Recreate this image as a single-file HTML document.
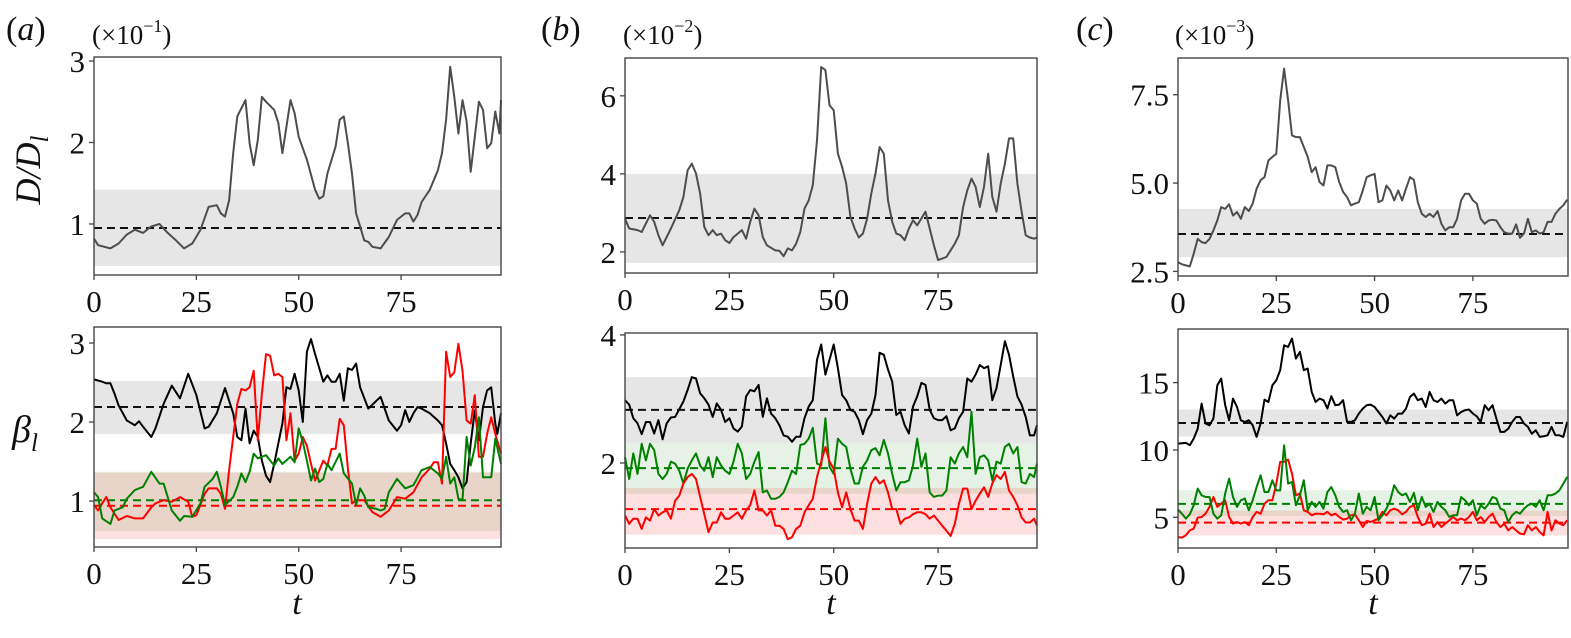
<!DOCTYPE html>
<html><head><meta charset="utf-8"><style>
html,body{margin:0;padding:0;background:#fff;}
.t{font-family:"Liberation Serif","Times New Roman",serif;fill:#111;}
</style></head><body>
<svg id="fig" width="1571" height="633" viewBox="0 0 1571 633" xmlns="http://www.w3.org/2000/svg">
<g id="layer"></g>
<text class="t" x="6" y="40" style="font-size:34px">(<tspan style="font-style:italic">a</tspan>)</text>
<text class="t" x="541" y="40" style="font-size:34px">(<tspan style="font-style:italic">b</tspan>)</text>
<text class="t" x="1076" y="40" style="font-size:34px">(<tspan style="font-style:italic">c</tspan>)</text>
<text class="t" x="92" y="44" style="font-size:27px">(×10<tspan style="font-size:18px" dy="-12">−1</tspan><tspan dy="12">)</tspan></text>
<text class="t" x="623" y="44" style="font-size:27px">(×10<tspan style="font-size:18px" dy="-12">−2</tspan><tspan dy="12">)</tspan></text>
<text class="t" x="1175" y="44" style="font-size:27px">(×10<tspan style="font-size:18px" dy="-12">−3</tspan><tspan dy="12">)</tspan></text>
<text class="t" transform="translate(40,170) rotate(-90)" text-anchor="middle" style="font-size:36px;font-style:italic">D/D<tspan style="font-size:25px" dy="8">l</tspan></text>
<text class="t" x="12" y="442" style="font-size:38px;font-style:italic">β<tspan style="font-size:25px" dy="9">l</tspan></text>
<text class="t" x="297" y="614" text-anchor="middle" style="font-size:34px;font-style:italic">t</text>
<text class="t" x="831" y="614" text-anchor="middle" style="font-size:34px;font-style:italic">t</text>
<text class="t" x="1373" y="614" text-anchor="middle" style="font-size:34px;font-style:italic">t</text>
</svg>
<script>
// ---------- data ----------
const xTicks = [0, 25, 50, 75];
// panel a top
const aTopT = [0,1,4,6,8,10,12,14,16,18,20,22,24,26,28,30,31,32,33,34,35,37,38,39,40,41,42,44,45,46,48,49,50,52,54,55,56,57,59,60,61,62,63,64,65,66,67,68,70,72,74,76,77,78,79,80,82,84,85,86,87,88,89,90,91,92,93,94,95,96,97,98,99,99.4];
const aTopV = [0.82,0.74,0.70,0.76,0.87,0.93,0.89,0.97,1.0,0.89,0.80,0.70,0.76,0.93,1.21,1.23,1.13,1.09,1.29,1.87,2.32,2.52,1.99,1.72,2.03,2.56,2.50,2.40,2.24,1.87,2.52,2.36,2.07,1.79,1.42,1.31,1.34,1.62,1.95,2.28,2.32,1.99,1.62,1.13,0.97,0.80,0.78,0.72,0.70,0.84,1.05,1.13,1.13,1.03,1.11,1.27,1.42,1.66,1.87,2.28,2.93,2.56,2.11,2.52,2.26,1.64,2.07,2.50,2.40,1.93,1.99,2.38,2.11,2.52];
const aTopYTicks = [1, 2, 3];
// panel a bottom
const aBlackT = [0,2,3,4,5,6,8,10,11,12,14,15,17,19,21,23,25,27,28,30,32,34,35,36,37,38,39,40,41,42,43,44,45,46,47,48,49,50,51,52,53,54,56,57,58,59,60,61,62,63,64,65,67,69,70,72,74,75,76,77,78,79,80,82,84,85,86,87,88,89,90,91,92,93,94,95,96,97,98,98.5,99.4];
const aBlackV = [2.54,2.51,2.49,2.49,2.36,2.21,2.02,1.96,2.01,1.94,1.81,1.92,2.23,2.46,2.30,2.61,2.34,1.92,1.94,2.11,2.43,2.11,1.81,1.77,2.17,1.73,1.89,1.81,1.51,1.32,1.24,1.47,1.73,1.98,2.44,2.42,2.61,2.40,2.00,2.89,3.05,2.86,2.51,2.59,2.51,2.51,2.61,2.27,2.68,2.66,2.74,2.44,2.17,2.27,2.32,2.02,1.89,1.96,2.15,2.00,2.11,2.19,2.17,2.11,2.02,1.96,1.73,1.47,1.39,1.30,1.16,1.24,1.73,2.15,1.77,2.19,2.40,2.44,1.98,1.85,2.11];
const aRedT = [0,1,2,3,4,6,8,10,12,14,15,17,19,21,23,24,25,27,28,30,31,32,33,34,35,36,37,38,39,40,41,42,43,44,45,46,47,48,49,50,51,52,53,54,56,57,58,59,60,61,62,63,64,66,68,70,72,74,76,78,80,82,83,84,85,86,87,88,89,90,91,92,93,94,95,96,97,98,99.4];
const aRedV = [0.95,0.88,0.97,1.05,0.92,0.76,0.81,0.78,0.78,0.92,0.97,1.01,0.99,1.05,0.99,0.80,0.82,1.09,1.16,1.16,1.09,0.90,1.39,1.81,2.23,2.42,2.40,2.44,2.65,1.77,2.36,2.86,2.84,2.59,2.61,2.57,1.77,2.11,1.51,1.60,1.81,1.70,1.47,1.26,1.51,1.45,1.66,1.66,2.04,1.96,1.41,0.97,1.01,1.01,0.86,0.80,0.88,1.05,1.03,1.11,1.30,1.41,1.49,1.49,1.22,2.89,2.57,2.63,2.99,2.65,2.02,1.98,2.34,1.56,1.56,1.85,2.06,1.85,1.60];
const aGreenT = [0,1,2,4,5,7,8,10,12,14,16,17,19,21,22,24,26,27,29,30,31,32,34,35,36,37,38,39,40,42,44,45,46,48,49,50,51,52,53,54,55,56,57,58,60,61,63,64,65,66,67,69,70,71,72,74,76,78,80,82,84,85,86,87,88,89,90,91,92,93,94,95,96,97,98,99,99.4];
const aGreenV = [1.11,1.05,0.78,0.71,0.88,0.92,1.03,1.14,1.18,1.37,1.22,1.22,0.88,0.75,0.81,0.80,0.97,1.18,1.28,1.37,1.18,0.95,1.05,1.18,1.35,1.24,1.37,1.60,1.54,1.58,1.45,1.54,1.47,1.56,1.49,1.92,1.75,1.51,1.26,1.41,1.24,1.28,1.47,1.39,1.60,1.35,1.22,0.95,1.16,1.07,0.92,0.90,0.88,0.90,1.11,1.28,1.16,1.20,1.39,1.43,1.35,1.28,1.56,1.22,1.30,1.03,1.01,1.81,1.45,1.68,2.06,1.30,1.30,1.30,1.79,1.56,1.47];
const aBotYTicks = [1, 2, 3];
// panel b top
const bTopT = [0,1,3,4,6,7,8,9,11,13,14,15,16,17,18,19,20,21,22,23,24,25,26,28,29,30,31,32,33,34,36,37,38,39,40,41,42,43,44,45,46,47,48,49,50,51,52,53,54,55,56,57,58,59,60,61,62,63,64,65,66,67,68,69,70,72,73,74,75,77,79,80,81,82,83,84,85,86,87,88,89,90,91,92,93,94,95,96,97,98,98.7];
const bTopV = [2.85,2.60,2.56,2.51,2.94,2.77,2.43,2.17,2.60,3.07,3.41,4.09,4.26,4.01,3.50,2.64,2.43,2.56,2.43,2.47,2.30,2.23,2.38,2.56,2.34,2.77,3.11,2.94,2.38,2.17,2.04,2.03,1.89,2.09,2.04,2.21,2.51,3.11,3.32,3.71,4.86,6.74,6.66,5.76,5.63,4.52,4.18,3.75,2.90,2.60,2.37,2.47,2.85,3.50,4.01,4.69,4.52,3.32,2.77,2.47,2.43,2.30,2.60,2.81,2.68,3.03,2.60,2.17,1.79,1.87,2.21,2.43,3.15,3.58,3.88,3.67,3.15,3.67,4.52,3.41,3.03,3.75,4.26,4.91,4.91,3.75,3.03,2.43,2.37,2.34,2.37];
const bTopYTicks = [2, 4, 6];
// panel b bottom
const bBotT = [...Array(99).keys(), 98.7];
const bBlackV = [2.98,2.91,2.70,2.62,2.45,2.64,2.64,2.46,2.67,2.37,2.62,2.71,2.72,2.84,2.96,3.14,3.34,3.32,3.09,3.01,2.91,2.72,2.93,2.83,2.64,2.70,2.54,2.49,2.57,3.04,3.14,3.12,3.22,2.72,3.01,2.77,2.70,2.59,2.43,2.41,2.33,2.41,2.41,2.70,2.88,2.98,3.61,3.85,3.38,3.61,3.85,3.48,3.06,2.98,2.83,2.80,2.67,2.45,2.67,2.77,3.06,3.72,3.69,3.46,3.27,2.75,2.80,2.59,2.46,2.88,3.04,3.25,3.22,2.83,2.70,2.67,2.67,2.73,2.51,2.54,2.70,2.80,3.32,3.27,3.38,3.53,3.48,3.51,2.98,3.17,3.53,3.90,3.69,3.35,3.04,2.91,2.72,2.43,2.43,2.59];
const bGreenV = [2.09,1.75,2.15,1.83,2.30,2.04,2.30,2.20,1.83,1.75,1.83,2.02,1.99,1.88,1.68,1.91,2.04,2.15,1.96,1.88,2.09,1.78,2.09,1.96,1.88,1.83,2.02,2.30,2.15,1.75,1.83,2.02,2.17,1.54,1.57,1.44,1.44,1.47,1.54,1.70,1.88,1.83,2.28,2.30,2.38,2.55,1.99,1.96,2.70,1.94,1.83,2.38,2.30,2.25,1.91,1.68,1.68,1.94,2.04,2.20,2.23,2.12,2.36,2.15,1.83,1.57,1.70,1.70,1.73,1.96,2.38,1.94,2.15,1.54,1.47,1.49,1.49,1.57,2.09,1.99,2.15,2.25,2.09,2.80,1.83,2.09,2.12,2.04,1.73,2.02,1.99,2.25,2.30,2.15,2.25,1.70,1.68,1.83,1.78,1.99];
const bRedV = [1.18,1.05,1.13,1.13,0.97,1.15,1.10,1.28,1.18,1.23,1.26,1.13,1.41,1.49,1.68,1.78,1.83,1.75,1.47,1.20,0.92,1.07,1.07,1.23,1.13,1.13,1.18,1.23,1.13,1.26,1.34,1.57,1.26,1.26,1.18,1.26,1.02,1.02,0.97,0.81,0.84,0.97,1.02,1.23,1.34,1.44,1.78,2.02,2.25,2.02,1.91,1.54,1.31,1.54,1.28,1.10,1.10,0.97,1.36,1.68,1.78,1.68,1.73,1.54,1.28,1.28,1.05,1.13,1.15,1.20,1.23,1.23,1.20,1.13,1.18,1.10,1.02,0.94,0.86,1.05,1.36,1.60,1.60,1.28,1.41,1.52,1.62,1.47,1.68,1.81,1.75,1.86,1.57,1.47,1.34,1.15,1.07,1.07,1.13,1.02];
const bBotYTicks = [2, 4];
// panel c
const cT = [...Array(100).keys()];
const cTopV = [2.76,2.70,2.67,2.64,3.0,3.42,3.33,3.30,3.42,3.66,3.94,4.32,4.27,4.40,4.08,4.18,3.99,4.32,4.21,4.42,4.84,5.08,5.17,5.64,5.74,5.83,7.34,8.24,7.34,6.35,6.30,6.30,6.02,5.74,5.31,5.45,5.03,4.93,5.50,5.50,5.45,5.03,4.75,4.60,4.37,4.42,4.46,4.79,5.17,5.22,5.26,4.46,4.51,4.93,4.79,4.51,4.79,4.51,4.84,5.17,5.09,4.46,4.13,4.04,4.13,4.04,4.21,3.85,3.66,3.75,3.75,3.99,4.51,4.70,4.70,4.51,4.42,3.99,3.85,3.94,3.96,3.94,3.75,3.61,3.57,3.57,3.83,3.45,3.57,3.99,3.61,3.66,3.57,3.61,3.90,3.90,4.13,4.27,4.37,4.53];
const cTopYTicks = [2.5, 5.0, 7.5];
const cTopYTickLabels = ["2.5", "5.0", "7.5"];
const cBlackV = [10.47,10.50,10.52,10.35,10.84,11.58,13.44,11.96,11.83,12.33,14.80,15.30,13.32,12.20,13.81,13.19,12.20,12.08,12.20,11.83,10.97,11.96,13.74,13.56,14.80,15.17,15.92,17.77,17.65,18.27,16.78,17.28,15.92,16.04,14.31,13.56,13.81,13.69,13.07,13.99,13.32,13.37,13.69,12.08,12.08,12.20,12.70,13.07,13.32,13.37,13.19,12.82,12.45,11.96,12.57,12.33,12.70,12.70,13.07,13.94,14.18,13.69,13.81,13.19,14.31,13.69,13.56,13.81,13.44,13.69,13.69,12.57,12.82,12.95,13.0,12.70,12.50,12.08,13.32,12.95,13.32,12.33,11.34,11.34,11.58,12.08,12.45,12.45,11.96,11.71,11.21,11.46,10.97,11.01,11.09,11.71,11.09,11.09,10.97,12.08];
const cGreenV = [5.57,5.27,4.90,5.22,5.89,7.13,6.63,6.51,6.51,5.27,4.90,5.15,6.76,7.87,6.51,5.77,6.26,6.39,5.52,6.26,7.25,8.12,6.88,6.88,7.75,7.0,7.0,10.35,7.50,7.62,5.89,6.63,7.75,5.52,6.14,5.77,6.14,5.64,6.88,7.25,6.63,5.77,5.40,5.52,4.78,5.27,6.76,5.27,5.77,5.52,6.51,4.78,5.15,5.64,6.26,7.38,6.88,6.63,6.76,6.14,6.81,5.52,6.51,5.77,6.01,5.40,6.14,5.77,5.52,5.02,5.15,5.15,6.51,6.26,5.89,6.26,5.15,5.89,5.64,6.01,6.51,6.39,5.64,5.52,4.65,5.15,5.40,5.27,5.64,5.89,6.01,5.77,6.26,5.52,6.63,6.63,6.76,7.0,7.50,8.0];
const cRedV = [3.54,3.49,3.66,4.03,4.16,4.98,5.02,5.27,5.77,6.51,5.77,6.01,6.26,5.02,4.53,4.65,4.53,4.65,4.41,5.02,5.40,5.27,6.01,6.26,6.26,7.50,9.11,9.11,9.28,8.24,6.63,6.76,5.52,5.40,5.15,5.27,5.27,5.22,5.40,5.15,5.27,5.02,4.83,4.90,5.15,5.22,4.78,4.28,4.73,4.65,4.78,4.90,5.40,5.15,5.52,5.64,5.52,5.22,5.40,5.77,5.89,5.02,4.41,4.53,5.27,4.28,4.65,4.28,4.53,4.78,5.02,4.78,4.90,4.78,5.02,5.40,4.78,5.02,4.65,5.02,5.27,4.65,4.28,4.53,4.03,4.28,4.03,3.79,3.74,4.41,4.03,4.28,3.91,3.66,5.40,4.03,4.78,4.53,4.41,4.78];
const cBotYTicks = [5, 10, 15];
// bands [low, high] and means
const aTopBand = [0.485, 1.42];  const aTopMean = 0.95;
const aBlackBand = [1.85, 2.52]; const aBlackMean = 2.19;
const aGreenBand = [0.62, 1.37]; const aGreenMean = 1.01;
const aRedBand = [0.52, 1.36];   const aRedMean = 0.94;
const bTopBand = [1.72, 4.0];    const bTopMean = 2.87;
const bBlackBand = [2.31, 3.34]; const bBlackMean = 2.83;
const bGreenBand = [1.52, 2.31]; const bGreenMean = 1.92;
const bRedBand = [0.88, 1.61];   const bRedMean = 1.28;
const cTopBand = [2.9, 4.27];    const cTopMean = 3.56;
const cBlackBand = [11.0, 13.0]; const cBlackMean = 12.0;
const cGreenBand = [5.1, 7.0];   const cGreenMean = 6.0;
const cRedBand = [3.65, 5.5];    const cRedMean = 4.6;

// ---------- drawing ----------
const NS = "http://www.w3.org/2000/svg";
const layer = document.getElementById("layer");
function mk(tag, parent) { const e = document.createElementNS(NS, tag); parent.appendChild(e); return e; }

function makeAxes(name, box, xlim, ylim) {
  const g = mk("g", layer);
  
  
  const sx = v => box.x0 + (v - xlim[0]) / (xlim[1] - xlim[0]) * (box.x1 - box.x0);
  const sy = v => box.y1 - (v - ylim[0]) / (ylim[1] - ylim[0]) * (box.y1 - box.y0);
  return { g, box, sx, sy };
}
function band(ax, rng, color, opacity, name) {
  const r = mk("rect", ax.g);
  
  
  r.setAttribute("x", ax.box.x0); r.setAttribute("width", ax.box.x1 - ax.box.x0);
  const ya = ax.sy(rng[1]), yb = ax.sy(rng[0]);
  r.setAttribute("y", ya); r.setAttribute("height", yb - ya);
  r.setAttribute("fill", color); r.setAttribute("fill-opacity", opacity);
}
function meanLine(ax, v, color, name) {
  const l = mk("line", ax.g);
  
  
  l.setAttribute("x1", ax.box.x0); l.setAttribute("x2", ax.box.x1);
  l.setAttribute("y1", ax.sy(v)); l.setAttribute("y2", ax.sy(v));
  l.setAttribute("stroke", color); l.setAttribute("stroke-width", 2);
  l.setAttribute("stroke-dasharray", "8,5");
}
function series(ax, ts, vs, color, name) {
  const n = Math.min(ts.length, vs.length);
  let d = "";
  for (let i = 0; i < n; i++) d += (i ? "L" : "M") + ax.sx(ts[i]).toFixed(1) + "," + ax.sy(vs[i]).toFixed(1);
  const p = mk("path", ax.g);
  
  
  p.setAttribute("d", d); p.setAttribute("fill", "none");
  p.setAttribute("stroke", color); p.setAttribute("stroke-width", 2);
  p.setAttribute("stroke-linejoin", "round");
}
function frame(ax, yTicks, yLabels, prefix) {
  const b = ax.box;
  const r = mk("rect", ax.g);
  
  
  r.setAttribute("x", b.x0); r.setAttribute("y", b.y0);
  r.setAttribute("width", b.x1 - b.x0); r.setAttribute("height", b.y1 - b.y0);
  r.setAttribute("fill", "none"); r.setAttribute("stroke", "#444"); r.setAttribute("stroke-width", 1.4);
  xTicks.forEach(t => {
    const x = ax.sx(t);
    const tk = mk("line", ax.g);
    
    
    tk.setAttribute("x1", x); tk.setAttribute("x2", x); tk.setAttribute("y1", b.y1); tk.setAttribute("y2", b.y1 + 5);
    tk.setAttribute("stroke", "#444"); tk.setAttribute("stroke-width", 1.3);
    const tx = mk("text", ax.g);
    
    
    tx.setAttribute("class", "t");
    tx.setAttribute("x", x); tx.setAttribute("y", b.y1 + 37);
    tx.setAttribute("text-anchor", "middle");
    tx.setAttribute("style", "font-size:31px");
    tx.textContent = t;
  });
  yTicks.forEach((v, i) => {
    const y = ax.sy(v);
    const tk = mk("line", ax.g);
    
    
    tk.setAttribute("x1", b.x0 - 5); tk.setAttribute("x2", b.x0); tk.setAttribute("y1", y); tk.setAttribute("y2", y);
    tk.setAttribute("stroke", "#444"); tk.setAttribute("stroke-width", 1.3);
    const tx = mk("text", ax.g);
    
    
    tx.setAttribute("class", "t");
    tx.setAttribute("x", b.x0 - 9); tx.setAttribute("y", y + 11);
    tx.setAttribute("text-anchor", "end");
    tx.setAttribute("style", "font-size:31px");
    tx.textContent = yLabels ? yLabels[i] : v;
  });
}
const GREY = "#808080", GA = 0.2, GREENC = "#008000", GRA = 0.1, REDC = "#ff0000", RA = 0.12;

// panel a
const aT = makeAxes("panel-a-top", {x0:94,x1:501,y0:57,y1:275}, [0,99.4], [0.374,3.049]);
band(aT, aTopBand, GREY, GA, "a-top-band");
meanLine(aT, aTopMean, "#111", "a-top-mean");
series(aT, aTopT, aTopV, "#4d4d4d", "a-top-line");
frame(aT, aTopYTicks, null, "a-top");
const aB = makeAxes("panel-a-bottom", {x0:94,x1:501,y0:327,y1:547}, [0,99.4], [0.418,3.203]);
band(aB, aBlackBand, GREY, GA, "a-black-band");
band(aB, aGreenBand, GREENC, GRA, "a-green-band");
band(aB, aRedBand, REDC, RA, "a-red-band");
meanLine(aB, aBlackMean, "#111", "a-black-mean");
meanLine(aB, aGreenMean, GREENC, "a-green-mean");
meanLine(aB, aRedMean, REDC, "a-red-mean");
series(aB, aBlackT, aBlackV, "#000", "a-black-line");
series(aB, aRedT, aRedV, REDC, "a-red-line");
series(aB, aGreenT, aGreenV, GREENC, "a-green-line");
frame(aB, aBotYTicks, null, "a-bottom");

// panel b
const bT = makeAxes("panel-b-top", {x0:625,x1:1037,y0:58,y1:273}, [0,98.7], [1.46,6.97]);
band(bT, bTopBand, GREY, GA, "b-top-band");
meanLine(bT, bTopMean, "#111", "b-top-mean");
series(bT, bTopT, bTopV, "#4d4d4d", "b-top-line");
frame(bT, bTopYTicks, null, "b-top");
const bB = makeAxes("panel-b-bottom", {x0:625,x1:1037,y0:333,y1:548}, [0,98.7], [0.672,4.03]);
band(bB, bBlackBand, GREY, GA, "b-black-band");
band(bB, bGreenBand, GREENC, GRA, "b-green-band");
band(bB, bRedBand, REDC, RA, "b-red-band");
meanLine(bB, bBlackMean, "#111", "b-black-mean");
meanLine(bB, bGreenMean, GREENC, "b-green-mean");
meanLine(bB, bRedMean, REDC, "b-red-mean");
series(bB, bBotT, bBlackV, "#000", "b-black-line");
series(bB, bBotT, bGreenV, GREENC, "b-green-line");
series(bB, bBotT, bRedV, REDC, "b-red-line");
frame(bB, bBotYTicks, null, "b-bottom");

// panel c
const cTp = makeAxes("panel-c-top", {x0:1178,x1:1568,y0:58,y1:276}, [0,99.2], [2.37,8.54]);
band(cTp, cTopBand, GREY, GA, "c-top-band");
meanLine(cTp, cTopMean, "#111", "c-top-mean");
series(cTp, cT, cTopV, "#4d4d4d", "c-top-line");
frame(cTp, cTopYTicks, cTopYTickLabels, "c-top");
const cB = makeAxes("panel-c-bottom", {x0:1178,x1:1568,y0:329,y1:548}, [0,99.2], [2.72,18.98]);
band(cB, cBlackBand, GREY, GA, "c-black-band");
band(cB, cGreenBand, GREENC, GRA, "c-green-band");
band(cB, cRedBand, REDC, RA, "c-red-band");
meanLine(cB, cBlackMean, "#111", "c-black-mean");
meanLine(cB, cGreenMean, GREENC, "c-green-mean");
meanLine(cB, cRedMean, REDC, "c-red-mean");
series(cB, cT, cBlackV, "#000", "c-black-line");
series(cB, cT, cRedV, REDC, "c-red-line");
series(cB, cT, cGreenV, GREENC, "c-green-line");
frame(cB, cBotYTicks, null, "c-bottom");
</script>
</body></html>
